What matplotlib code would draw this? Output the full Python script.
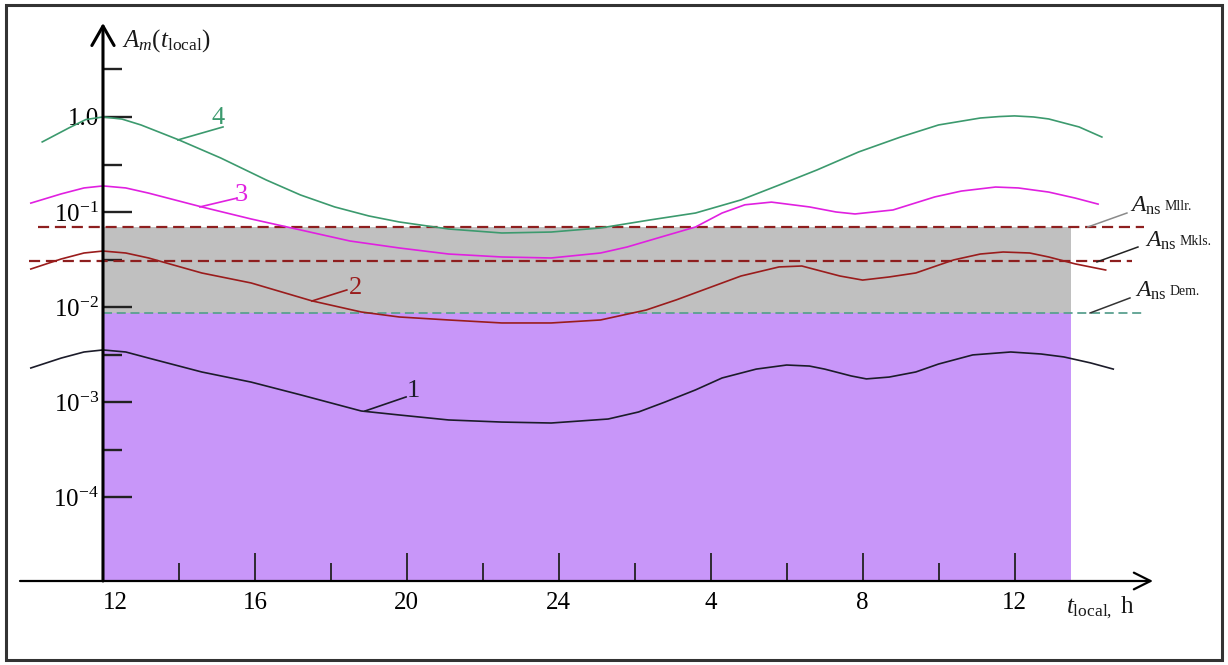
import matplotlib
matplotlib.use("Agg")
import matplotlib.pyplot as plt
from matplotlib.patches import Rectangle
from matplotlib.ticker import NullFormatter

# ---------------- data ----------------
# local time axis: hours counted from 12 h local time
x_major = [0, 4, 8, 12, 16, 20, 24]
x_labels = ["12", "16", "20", "24", "4", "8", "12"]
x_minor = [2, 6, 10, 14, 18, 22]

y_major = [1.0, 1e-1, 1e-2, 1e-3, 1e-4]
y_labels = ["1.0", r"$10^{-1}$", r"$10^{-2}$", r"$10^{-3}$", r"$10^{-4}$"]
y_minor = [3.16, 0.316, 0.0316, 0.00316, 0.000316]

hours1 = [-1.9, -1.1, -0.5, 0.0, 0.6, 1.2, 2.6, 3.9, 5.2, 6.8, 7.8, 9.1, 10.5, 11.8, 13.3, 14.1, 14.8, 15.6,
          16.3, 17.2, 18.0, 18.6, 19.0, 19.7, 20.1, 20.7, 21.4, 22.0, 22.9, 23.9, 24.7, 25.3, 26.0, 26.6]
amp1 = [0.00228, 0.00290, 0.00336, 0.00353, 0.00336, 0.00290, 0.00207, 0.00162, 0.00119, 0.000804, 0.000730,
        0.000647, 0.000615, 0.000601, 0.000662, 0.000785, 0.00100, 0.00134, 0.00179, 0.00222, 0.00245,
        0.00239, 0.00222, 0.00188, 0.00175, 0.00183, 0.00207, 0.00251, 0.00313, 0.00336, 0.00320,
        0.00298, 0.00258, 0.00222]

hours2 = [-1.9, -1.1, -0.5, 0.0, 0.6, 1.2, 2.6, 3.9, 5.5, 6.8, 7.8, 9.1, 10.5, 11.8, 13.1, 14.3, 15.1, 15.8,
          16.8, 17.8, 18.4, 18.8, 19.4, 20.0, 20.7, 21.4, 22.4, 23.1, 23.7, 24.4, 24.9, 25.6, 26.4]
amp2 = [0.0251, 0.0320, 0.0370, 0.0388, 0.0370, 0.0328, 0.0228, 0.0179, 0.0116, 0.00886, 0.00785,
        0.00730, 0.00679, 0.00679, 0.00730, 0.00929, 0.0119, 0.0151, 0.0212, 0.0264, 0.0270, 0.0245,
        0.0212, 0.0192, 0.0207, 0.0228, 0.0313, 0.0361, 0.0379, 0.0370, 0.0336, 0.0284, 0.0245]

hours3 = [-1.9, -1.1, -0.5, 0.0, 0.6, 1.2, 2.6, 3.9, 5.2, 6.5, 7.8, 9.1, 10.5, 11.8, 13.1, 13.8, 14.7, 15.6,
          16.3, 16.9, 17.6, 18.6, 19.3, 19.8, 20.8, 21.9, 22.6, 23.5, 24.1, 24.9, 25.6, 26.2]
amp3 = [0.124, 0.155, 0.179, 0.188, 0.179, 0.158, 0.113, 0.0844, 0.0647, 0.0495, 0.0418, 0.0361,
        0.0336, 0.0328, 0.0370, 0.0428, 0.0546, 0.0695, 0.0975, 0.119, 0.127, 0.113,
        0.100, 0.0953, 0.105, 0.144, 0.166, 0.183, 0.179, 0.162, 0.140, 0.121]

hours4 = [-1.6, -0.9, -0.45, 0.0, 0.5, 1.0, 2.0, 3.1, 4.3, 5.2, 6.1, 7.0, 7.8, 9.1, 10.5, 11.8, 13.1, 14.4,
          15.6, 16.8, 17.8, 18.8, 19.9, 21.0, 22.0, 23.1, 23.6, 24.0, 24.5, 24.9, 25.7, 26.3]
amp4 = [0.546, 0.766, 0.94, 1.0, 0.95, 0.824, 0.573, 0.370, 0.217, 0.151, 0.113, 0.0908,
        0.0785, 0.0662, 0.0601, 0.0615, 0.0679, 0.0824, 0.0975, 0.134, 0.192, 0.277,
        0.429, 0.615, 0.824, 0.975, 1.01, 1.026, 1.0, 0.953, 0.785, 0.615]

# threshold levels
level_names = ["Mllr.", "Mkls.", "Dem."]
level_values = [0.0695, 0.0305, 0.00865]
level_start = [-1.7, -1.95, 0.0]
level_end = [27.4, 27.1, 27.35]
fill_end = 25.5

# ---------------- styling ----------------
plt.rcParams["font.family"] = ["Liberation Serif", "DejaVu Serif"]
plt.rcParams["mathtext.fontset"] = "custom"
plt.rcParams["mathtext.rm"] = "Liberation Serif"
plt.rcParams["mathtext.it"] = "Liberation Serif:italic"
plt.rcParams["mathtext.bf"] = "Liberation Serif:bold"

c1, c2, c3, c4 = "#1c1c2a", "#9a1c1c", "#e020e0", "#3c9a6e"
c_lvl = ["#8e1f1f", "#8e1f1f", "#5aa090"]
c_gray = "#c0c0c0"
c_purple = "#c896f9"

fig = plt.figure(figsize=(12.28, 6.65), dpi=100)
ax = fig.add_axes([20 / 1228, 84 / 665, 1133 / 1228, 558 / 665])
ax.set_yscale("log")
ax.set_xlim(-2.185, 27.646)
ax.set_ylim(10 ** -4.884, 10 ** 0.989)
ax.patch.set_alpha(0)
for s in ax.spines.values():
    s.set_visible(False)
ax.spines["left"].set_position(("data", 0))

ybot, ytop = ax.get_ylim()
xl, xr = ax.get_xlim()

# fills
ax.fill_between([0, fill_end], [level_values[2]] * 2, [level_values[0]] * 2,
                color=c_gray, lw=0, zorder=0.5)
ax.fill_between([0, fill_end], [ybot] * 2, [level_values[2]] * 2,
                color=c_purple, lw=0, zorder=0.5)

# threshold dashed lines
for v, x0, x1, c, lw in zip(level_values, level_start, level_end, c_lvl, [1.6, 1.6, 1.3]):
    ax.plot([x0, x1], [v, v], ls=(0, (5, 2.6)), color=c, lw=lw, zorder=2)

# curves
for h, a, c in [(hours1, amp1, c1), (hours2, amp2, c2), (hours3, amp3, c3), (hours4, amp4, c4)]:
    ax.plot(h, a, color=c, lw=1.2, zorder=3, solid_joinstyle="round")

# ticks
ax.set_xticks(x_major, labels=x_labels)
ax.set_xticks(x_minor, minor=True)
ax.tick_params(axis="x", which="major", direction="in", length=20, width=1.3,
               color="#222222", labelsize=18, pad=8)
ax.tick_params(axis="x", which="minor", direction="in", length=13, width=1.3, color="#222222")
ax.get_xticklabels()[0].set_ha("left")
ax.set_yticks(y_major, labels=y_labels)
ax.set_yticks(y_minor, minor=True)
ax.yaxis.set_minor_formatter(NullFormatter())
ax.tick_params(axis="y", which="major", direction="in", length=21, width=1.7,
               color="#222222", labelsize=18, pad=3)
ax.tick_params(axis="y", which="minor", direction="in", length=14, width=1.7, color="#222222")

# axis arrows
ax.annotate("", xy=(0, ytop), xytext=(0, ybot),
            arrowprops=dict(arrowstyle="->,head_length=0.7,head_width=0.4", lw=2.2,
                            color="k", shrinkA=0, shrinkB=0, mutation_scale=20),
            annotation_clip=False, zorder=5)
ax.annotate("", xy=(xr, ybot), xytext=(xl, ybot),
            arrowprops=dict(arrowstyle="->,head_length=0.6,head_width=0.3", lw=1.6,
                            color="k", shrinkA=0, shrinkB=0, mutation_scale=20),
            annotation_clip=False, zorder=5)

# axis titles
ax.text(0.5, 6.4, r"$A_m(t_{\mathrm{local}})$", fontsize=18, ha="left", va="center",
        color="#1a1a1a")
ax.text(25.35, 10 ** -5.17, r"$t_{\mathrm{local,}}$ h", fontsize=18, ha="left",
        va="center", color="#1a1a1a", clip_on=False)

# curve labels with leader lines
curve_lbls = [("1", (6.90, 0.000804), (7.98, 0.00113), (8.16, 0.00131), c1),
              ("2", (5.50, 0.01156), (6.42, 0.0151), (6.64, 0.0158), c2),
              ("3", (2.55, 0.113), (3.53, 0.140), (3.64, 0.151), c3),
              ("4", (1.97, 0.573), (3.16, 0.785), (3.03, 0.964), c4)]
for txt, p0, p1, pt, c in curve_lbls:
    ax.plot([p0[0], p1[0]], [p0[1], p1[1]], color=c, lw=1.2, zorder=3)
    ax.text(pt[0], pt[1], txt, color=c, fontsize=19, ha="center", va="center", zorder=4)

# threshold labels with leader lines
lvl_lbls = [((25.93, 0.0695), (26.96, 0.0975), (27.04, 0.10), "#8a8a8a"),
            ((26.17, 0.0298), (27.25, 0.0428), (27.43, 0.0428), "#222222"),
            ((25.99, 0.00865), (27.04, 0.01245), (27.17, 0.0127), "#333333")]
for name, (p0, p1, pt, lc) in zip(level_names, lvl_lbls):
    ax.plot([p0[0], p1[0]], [p0[1], p1[1]], color=lc, lw=1.1, clip_on=False, zorder=3)
    t = ax.text(pt[0], pt[1], r"$A_{\mathrm{ns}}$", fontsize=17, ha="left", va="baseline",
                color="#1a1a1a", clip_on=False)
    ax.annotate(name, xy=(1, 0), xycoords=t, xytext=(2, 3), textcoords="offset points",
                fontsize=10, ha="left", va="bottom", color="#1a1a1a", annotation_clip=False)

# outer frame
fig.add_artist(Rectangle((6 / 1228, 5 / 665), 1216 / 1228, 655 / 665,
                         transform=fig.transFigure, fill=False, ec="#333333", lw=2.2))

fig.savefig("out.png", dpi=100)
